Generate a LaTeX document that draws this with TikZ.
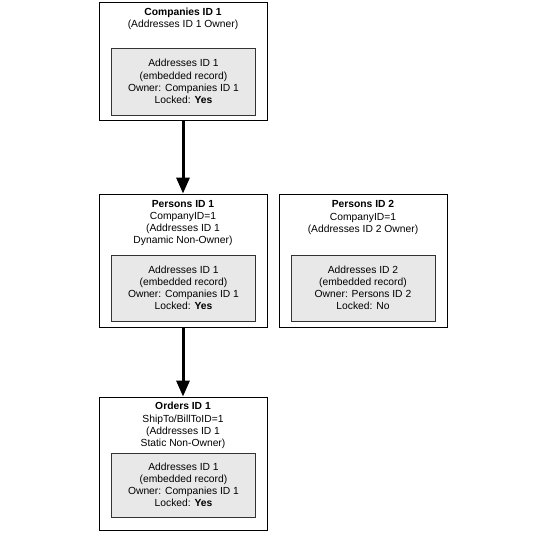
\documentclass[tikz,border=0pt]{standalone}
\usepackage{fontspec}
\setmainfont{Liberation Sans}
\usetikzlibrary{arrows.meta}
\begin{document}
\begin{tikzpicture}[x=1pt,y=1pt,
  outerbox/.style={rectangle, draw=black, line width=0.9pt, fill=white, minimum width=168pt, inner sep=0pt},
  innerbox/.style={rectangle, draw=black!80, line width=0.8pt, fill=gray!18, minimum width=144pt, inner sep=0pt, align=center, font=\fontsize{10.3}{12.2}\selectfont},
  titletext/.style={align=center, font=\fontsize{10.3}{12.2}\selectfont, inner sep=0pt},
  arr/.style={line width=3pt, -{Triangle[length=16pt,width=13pt]}}]
\useasboundingbox (0,0) rectangle (548,-536);
% Companies
\node[outerbox, minimum height=118pt] (comp) at (183,-61) {};
\node[titletext] (compT) at (183,-19) {\textbf{Companies ID 1}\\(Addresses ID 1 Owner)};
\node[innerbox, minimum height=67pt] (compI) at (183.5,-81.5) {Addresses ID 1\\(embedded record)\\Owner: Companies ID 1\\Locked: \textbf{Yes}};
% Persons 1
\node[outerbox, minimum height=133pt] (pers1) at (183,-260.5) {};
\node[titletext] (pers1T) at (183,-223) {\textbf{Persons ID 1}\\CompanyID=1\\(Addresses ID 1\\Dynamic Non-Owner)};
\node[innerbox, minimum height=66pt] (pers1I) at (183.5,-288) {Addresses ID 1\\(embedded record)\\Owner: Companies ID 1\\Locked: \textbf{Yes}};
% Persons 2
\node[outerbox, minimum height=133pt] (pers2) at (363,-260.5) {};
\node[titletext] (pers2T) at (363,-217.5) {\textbf{Persons ID 2}\\CompanyID=1\\(Addresses ID 2 Owner)};
\node[innerbox, minimum height=66pt] (pers2I) at (363,-288) {Addresses ID 2\\(embedded record)\\Owner: Persons ID 2\\Locked: No};
% Orders
\node[outerbox, minimum height=133pt] (ord) at (183,-463.5) {};
\node[titletext] (ordT) at (183,-425.5) {\textbf{Orders ID 1}\\ShipTo/BillToID=1\\(Addresses ID 1\\Static Non-Owner)};
\node[innerbox, minimum height=64pt] (ordI) at (183.5,-485) {Addresses ID 1\\(embedded record)\\Owner: Companies ID 1\\Locked: \textbf{Yes}};
% arrows
\draw[arr] (comp.south) -- (pers1.north);
\draw[arr] (pers1.south) -- (ord.north);
\end{tikzpicture}
\end{document}
